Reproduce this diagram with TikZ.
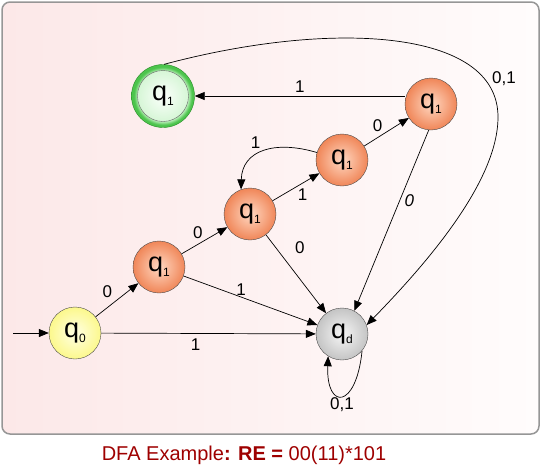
\documentclass[tikz,border=0pt]{standalone}
\usepackage{fontspec}
\setmainfont{Liberation Sans}
\usetikzlibrary{arrows.meta,positioning}

\definecolor{capred}{RGB}{158,0,0}
\definecolor{orgin}{RGB}{255,216,194}
\definecolor{orgout}{RGB}{240,134,88}
\definecolor{yelin}{RGB}{255,255,228}
\definecolor{yelout}{RGB}{252,248,140}
\definecolor{grayin}{RGB}{246,246,246}
\definecolor{grayout}{RGB}{196,196,196}
\definecolor{ringin}{RGB}{190,240,190}
\definecolor{ringgreen}{RGB}{76,196,76}
\definecolor{ringedge}{RGB}{40,140,40}
\definecolor{corein}{RGB}{252,255,252}
\definecolor{coreout}{RGB}{214,246,214}

\pgfdeclareradialshading{ringshade}{\pgfpoint{0bp}{0bp}}{color(0bp)=(ringin); color(20bp)=(ringin);
  color(23bp)=(ringgreen); color(25bp)=(ringgreen); color(50bp)=(ringgreen)}

\newcommand{\qsub}[1]{{\fontsize{27}{27}\selectfont q}\raisebox{-5pt}{\fontsize{12}{12}\selectfont #1}}

\begin{document}
\begin{tikzpicture}[x=1pt,y=-1pt,
    frame/.style={draw={rgb,255:red,150;green,150;blue,150},line width=1.5pt,rounded corners=8pt,
      left color={rgb,255:red,252;green,232;blue,232},middle color={rgb,255:red,255;green,246;blue,246},
      right color={rgb,255:red,255;green,252;blue,252}},
    midstate/.style={circle,minimum size=52pt,inner sep=0pt,draw=black!70,inner color=orgin,outer color=orgout},
    startstate/.style={midstate,inner color=yelin,outer color=yelout},
    deadstate/.style={midstate,inner color=grayin,outer color=grayout},
    finalring/.style={circle,minimum size=63pt,inner sep=0pt,draw=ringedge,shading=ringshade},
    finalcore/.style={circle,minimum size=51pt,inner sep=0pt,draw=black!60,thin,inner color=corein,outer color=coreout},
    trans/.style={-{Triangle[length=10pt,width=8pt]},line width=0.7pt},
    lbl/.style={font=\fontsize{17}{17}\selectfont,inner sep=1.5pt}]

  \useasboundingbox (0,0) rectangle (541,466);
  \draw[frame] (2,2) rectangle (539,434);

  % states
  \node[startstate] (q0) at (75,333) {\qsub{0}};
  \node[midstate] (q1a) at (159,267) {\qsub{1}};
  \node[midstate] (q1b) at (250,214) {\qsub{1}};
  \node[midstate] (q1c) at (342,160) {\qsub{1}};
  \node[midstate] (q1d) at (431,104) {\qsub{1}};
  \node[deadstate] (qd) at (342,334) {\qsub{d}};
  \node[finalring] (acc) at (163,96) {};
  \node[finalcore] (acccore) at (acc) {\qsub{1}};
  \coordinate (start) at (13,333);

  % transitions
  \draw[trans] (start) -- (q0);
  \draw[trans] (q0) -- node[lbl,below=3pt,pos=0.44] {1} (qd);
  \draw[trans] (q0) -- node[lbl,above left=0pt and 3pt] {0} (q1a);
  \draw[trans] (q1a) -- node[lbl,above left] {0} (q1b);
  \draw[trans] (q1a) -- node[lbl,above,pos=0.43] {1} (qd);
  \draw[trans] (q1b) -- node[lbl,below right] {1} (q1c);
  \draw[trans] (q1b) -- node[lbl,right=17pt,pos=0.17] {0} (qd);
  \draw[trans] (q1c) .. controls (275,140) and (242,150) .. node[lbl,above left=2pt,pos=0.5] {1} (q1b.110);
  \draw[trans] (q1c) -- node[lbl,above left,pos=0.45] {0} (q1d);
  \draw[trans] (q1d.west |- acc.east) -- node[lbl,above=2pt] {1} (acc.east);
  \draw[trans] (q1d.265) -- node[lbl,right=3pt,pos=0.39] {\textit{0}} (qd.62);
  \draw[trans] (acc.88) .. controls (330,20) and (498,28) .. (498,117)
    node[lbl,right=6pt,pos=0.83] {0,1}
    .. controls (498,180) and (430,260) .. (qd.20);
  \draw[trans] (qd.-40) .. controls (356,410) and (326,410) .. node[lbl,below] {0,1} (qd.-122);

  % caption
  \node[anchor=base,font=\fontsize{20}{20}\selectfont,text=capred] (caption) at (244,460)
    {DFA Example\textbf{: RE =} 00(11)*101};
\end{tikzpicture}
\end{document}
